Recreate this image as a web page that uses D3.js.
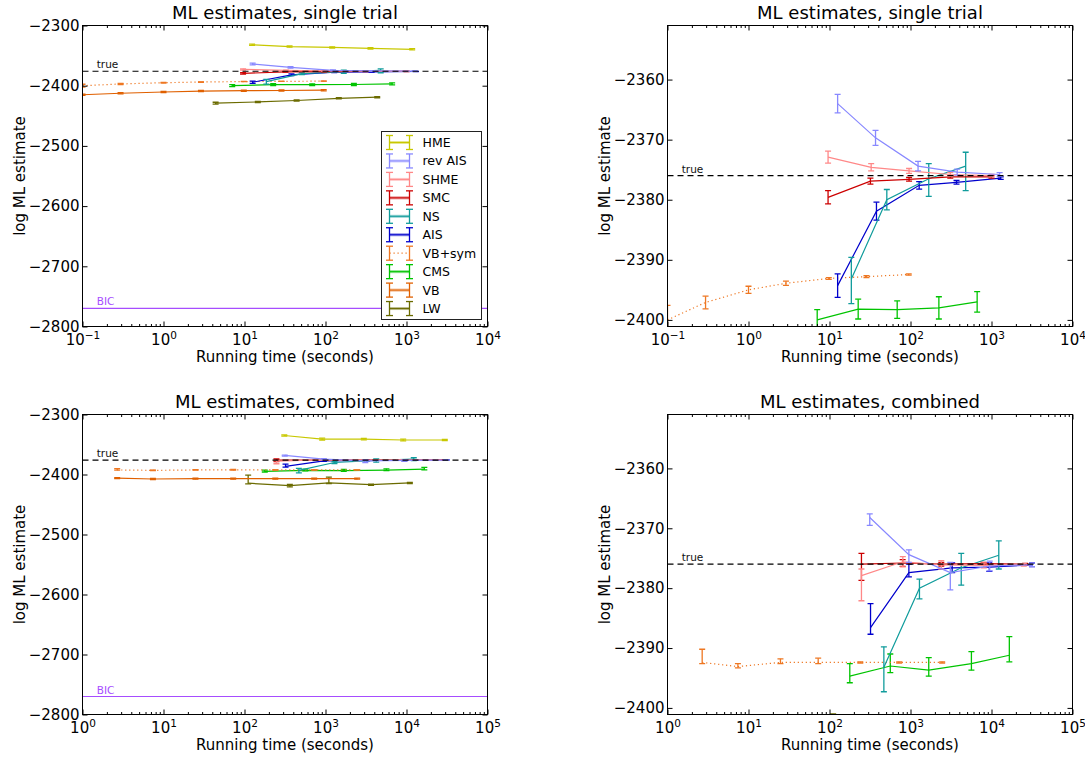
<!DOCTYPE html>
<html>
<head>
<meta charset="utf-8">
<script src="https://cdn.jsdelivr.net/npm/d3@7"></script>
<style>
    body { margin: 0; background: #fff; }
    svg { font-family: "DejaVu Sans", sans-serif; }
    .frame { fill: none; stroke: #000; stroke-width: 1; }
    .axis line { stroke: #000; stroke-width: 1; }
    .series path { fill: none; stroke-width: 1.2; }
    .series line { stroke-width: 1.3; }
</style>
</head>
<body>
<svg id="fig" width="1085" height="759"></svg>
<script>

var methods = ["HME", "rev AIS", "SHME", "SMC", "NS", "AIS", "VB+sym", "CMS", "VB", "LW"];
var method_colors = ["#c8c800", "#8888ff", "#ff8888", "#cc0000", "#109c9c", "#0000cc", "#ee7722", "#00c400", "#e06000", "#6b6b00"];
var dotted_methods = ["VB+sym"];

var true_value = -2376;
var bic_value = -2770;

// rows: [seconds, log ML estimate, error below, error above]
var single_HME = [[12.4, -2332, 1, 1], [36, -2335, 1, 1], [121, -2336.5, 1, 1], [359, -2338, 1, 1], [1175, -2339.5, 1, 1]];
var single_revAIS = [[12.6, -2364, 1.55, 1.55], [37, -2369.7, 1.25, 1.25], [124, -2374.4, 0.8, 0.8], [377, -2375.4, 0.5, 0.5], [1260, -2375.8, 0.3, 0.3]];
var single_SHME = [[9.6, -2372.9, 1, 1], [32.7, -2374.6, 0.6, 0.6], [96, -2375.2, 0.4, 0.4], [310, -2375.8, 0.3, 0.3], [1000, -2376, 0.2, 0.2]];
var single_SMC = [[9.6, -2379.6, 1.1, 1.1], [32, -2376.9, 0.5, 0.5], [96, -2376.6, 0.3, 0.3], [310, -2376.2, 0.2, 0.2], [1000, -2376.2, 0.2, 0.2]];
var single_NS = [[18.6, -2393.2, 4.1, 3.6], [51, -2380, 1.7, 1.7], [168, -2376.5, 2.95, 2.5], [480, -2374.4, 4.1, 2.3]];
var single_AIS = [[12.6, -2394.3, 1.95, 1.95], [38, -2381.9, 1.5, 1.5], [128, -2377.6, 0.63, 0.63], [370, -2377.1, 0.3, 0.3], [1300, -2376.4, 0.2, 0.2]];
var single_VBsym = [[0.1, -2400, 2.4, 2.4], [0.295, -2397.1, 1.05, 1.05], [1.0, -2395, 0.6, 0.6], [2.9, -2393.9, 0.35, 0.35], [9.8, -2393.1, 0.15, 0.15], [28.6, -2392.8, 0.15, 0.15], [95, -2392.45, 0.1, 0.1]];
var single_CMS = [[7.05, -2400, 1.7, 1.7], [22.6, -2398.2, 1.65, 1.65], [68.5, -2398.3, 1.45, 1.45], [224, -2398, 1.85, 1.85], [665, -2397, 1.7, 1.7]];
var single_VB = [[0.1, -2415, 1, 1], [0.295, -2412.5, 1, 1], [1.0, -2410.5, 1, 1], [2.9, -2409, 1, 1], [9.8, -2408.3, 1, 1], [28.6, -2408, 1, 1], [95, -2407.5, 1, 1]];
var single_LW = [[4.4, -2429, 1.5, 1.5], [14.6, -2427, 1, 1], [44, -2424.6, 1, 1], [146, -2421, 1, 1], [435, -2419, 1, 1]];

var combined_HME = [[310, -2335, 1, 1], [910, -2341, 1.5, 1.5], [2970, -2341, 1.2, 1.2], [9100, -2342.5, 1.5, 1.5], [29700, -2342.5, 1.2, 1.2]];
var combined_revAIS = [[314, -2368.2, 1.3, 0.6], [955, -2374.4, 1.3, 0.8], [3100, -2377.4, 2.9, 1.7], [9500, -2376.3, 0.8, 0.8], [31600, -2376.1, 0.3, 0.3]];
var combined_SHME = [[248, -2377.9, 4.2, 1.1], [804, -2375.6, 0.85, 0.85], [2400, -2376.1, 0.7, 0.7], [8030, -2376.2, 0.4, 0.4], [25000, -2376.1, 0.2, 0.2]];
var combined_SMC = [[248, -2376, 2.7, 1.8], [800, -2375.8, 0.55, 0.55], [2400, -2376, 0.3, 0.3], [8000, -2375.9, 0.2, 0.2], [26000, -2376, 0.15, 0.15]];
var combined_NS = [[469, -2393.2, 4.1, 3.4], [1290, -2380, 1.8, 1.5], [4230, -2376.6, 2.9, 2.4], [12300, -2374.5, 2.3, 2.4]];
var combined_AIS = [[321, -2386.6, 1.1, 4.0], [955, -2377.4, 0.7, 1.4], [3270, -2376.6, 0.8, 0.8], [9400, -2376.5, 0.7, 0.7], [31600, -2376.1, 0.3, 0.3]];
var combined_VBsym = [[2.68, -2392.4, 0.2, 2.2], [7.4, -2393.1, 0.2, 0.5], [24.8, -2392.4, 0.2, 0.6], [72.5, -2392.4, 0.2, 0.7], [240, -2392.4, 0.1, 0.1], [725, -2392.4, 0.1, 0.1], [2460, -2392.4, 0.1, 0.1]];
var combined_CMS = [[178, -2394.7, 1.1, 2.1], [563, -2393, 1.1, 2.0], [1680, -2393.7, 1.0, 2.1], [5650, -2392.6, 1.1, 2.0], [16600, -2391.2, 1.1, 3.1]];
var combined_VB = [[2.68, -2406, 0.8, 0.8], [7.4, -2407.5, 0.8, 0.8], [24.8, -2407, 0.8, 0.8], [72.5, -2407, 0.8, 0.8], [240, -2407, 0.8, 0.8], [725, -2407, 0.8, 0.8], [2460, -2407, 0.8, 0.8]];
var combined_LW = [[111, -2414.5, 1, 13.5], [363, -2418.5, 2, 2], [1100, -2414, 1, 9.5], [3650, -2417, 1, 1], [11000, -2414, 1, 1]];

// same order as methods
var single_trial = [single_HME, single_revAIS, single_SHME, single_SMC, single_NS, single_AIS, single_VBsym, single_CMS, single_VB, single_LW];
var combined = [combined_HME, combined_revAIS, combined_SHME, combined_SMC, combined_NS, combined_AIS, combined_VBsym, combined_CMS, combined_VB, combined_LW];

var wide_y_domain = [-2800, -2300];
var wide_y_ticks = [-2300, -2400, -2500, -2600, -2700, -2800];
var zoom_y_domain = [-2401.1, -2351];
var zoom_y_ticks = [-2360, -2370, -2380, -2390, -2400];
var single_x_domain = [0.1, 1e4];
var single_x_ticks = [0.1, 1, 10, 100, 1000, 10000];
var combined_x_domain = [1, 1e5];
var combined_x_ticks = [1, 10, 100, 1000, 10000, 100000];

var title_single = "ML estimates, single trial";
var title_combined = "ML estimates, combined";
var x_label = "Running time (seconds)";
var y_label = "log ML estimate";


var clip_count = 0;

function ml_panel() {

    var width = 405
        , height = 300
        , x_domain
        , y_domain
        , x_ticks
        , y_ticks
        , title = ""
        , rows = []
        , legend = false
        , bic = false
        , yFormat = d3.format("d")
        , expFormat = d3.format("d")
        ;

    function my(selection) {
        selection.each(function() {

            var g = d3.select(this);

            var x = d3.scaleLog().domain(x_domain).range([0, width]);
            var y = d3.scaleLinear().domain(y_domain).range([height, 0]);

            var clip_id = "clip-" + (++clip_count);
            g.append("clipPath").attr("id", clip_id)
                .append("rect").attr("width", width).attr("height", height);

            var plot = g.append("g").attr("clip-path", "url(#" + clip_id + ")");

            if (bic) {
                plot.append("line")
                    .attr("x1", 0).attr("x2", width)
                    .attr("y1", y(bic_value)).attr("y2", y(bic_value))
                    .attr("stroke", "#a64dff").attr("stroke-width", 1.2);
                g.append("text")
                    .attr("x", x(x_domain[0] * 1.5)).attr("y", y(bic_value) - 3)
                    .attr("font-size", 10.5).attr("fill", "#a64dff")
                    .text("BIC");
            }

            var line_gen = d3.line()
                .x(d => x(d[0]))
                .y(d => y(d[1]));

            // plot from the bottom of the legend upwards
            d3.range(rows.length - 1, -1, -1).forEach(function(i) {
                var data = rows[i]
                    , color = method_colors[i]
                    , s = plot.append("g").attr("class", "series");

                s.append("path")
                    .attr("d", line_gen(data))
                    .attr("stroke", color)
                    .attr("stroke-dasharray", dotted_methods.indexOf(methods[i]) >= 0 ? "1.2,2.8" : null);

                var bars = s.selectAll("g.bar")
                    .data(data)
                    .enter()
                    .append("g")
                    .attr("class", "bar")
                    .attr("stroke", color);

                bars.append("line")
                    .attr("x1", d => x(d[0])).attr("x2", d => x(d[0]))
                    .attr("y1", d => y(d[1] - d[2])).attr("y2", d => y(d[1] + d[3]));
                bars.append("line")
                    .attr("x1", d => x(d[0]) - 3).attr("x2", d => x(d[0]) + 3)
                    .attr("y1", d => y(d[1] - d[2])).attr("y2", d => y(d[1] - d[2]));
                bars.append("line")
                    .attr("x1", d => x(d[0]) - 3).attr("x2", d => x(d[0]) + 3)
                    .attr("y1", d => y(d[1] + d[3])).attr("y2", d => y(d[1] + d[3]));
            });

            plot.append("line")
                .attr("x1", 0).attr("x2", width)
                .attr("y1", y(true_value)).attr("y2", y(true_value))
                .attr("stroke", "#000").attr("stroke-width", 1.2)
                .attr("stroke-dasharray", "6,4");

            g.append("text")
                .attr("x", x(x_domain[0] * 1.5)).attr("y", y(true_value) - 3)
                .attr("font-size", 10.5).attr("fill", "#111")
                .text("true");

            // axes, ticks pointing inwards on all four sides
            var minor = [];
            x_ticks.slice(0, -1).forEach(function(t) {
                for (var k = 2; k < 10; k++) minor.push(t * k);
            });

            function tidy(sel) {
                sel.select(".domain").remove();
                sel.attr("font-family", null).attr("font-size", 15);
            }

            g.append("g").attr("class", "axis axis--y")
                .call(d3.axisLeft(y).tickValues(y_ticks).tickSizeInner(-5).tickSizeOuter(0)
                    .tickPadding(3).tickFormat(yFormat))
                .call(tidy);

            g.append("g").attr("class", "axis")
                .attr("transform", "translate(" + width + ",0)")
                .call(d3.axisRight(y).tickValues(y_ticks).tickSizeInner(-5).tickSizeOuter(0).tickFormat(""))
                .call(tidy);

            var gx = g.append("g").attr("class", "axis axis--x")
                .attr("transform", "translate(0," + height + ")")
                .call(d3.axisBottom(x).tickValues(x_ticks).tickSizeInner(-5).tickSizeOuter(0)
                    .tickPadding(8).tickFormat(() => ""))
                .call(tidy);

            gx.selectAll(".tick text").each(function(d) {
                var t = d3.select(this);
                t.append("tspan").text("10");
                t.append("tspan").attr("dy", -6).attr("font-size", 10.5)
                    .text(expFormat(Math.round(Math.log10(d))));
            });

            g.append("g").attr("class", "axis")
                .attr("transform", "translate(0," + height + ")")
                .call(d3.axisBottom(x).tickValues(minor).tickSizeInner(-2.5).tickSizeOuter(0).tickFormat(""))
                .call(tidy);

            g.append("g").attr("class", "axis")
                .call(d3.axisTop(x).tickValues(x_ticks).tickSizeInner(-5).tickSizeOuter(0).tickFormat(""))
                .call(tidy);

            g.append("g").attr("class", "axis")
                .call(d3.axisTop(x).tickValues(minor).tickSizeInner(-2.5).tickSizeOuter(0).tickFormat(""))
                .call(tidy);

            g.append("rect").attr("class", "frame")
                .attr("width", width).attr("height", height);

            g.append("text")
                .attr("x", width / 2).attr("y", -7)
                .attr("text-anchor", "middle").attr("font-size", 18)
                .text(title);

            g.append("text")
                .attr("x", width / 2).attr("y", height + 35)
                .attr("text-anchor", "middle").attr("font-size", 15)
                .text(x_label);

            g.append("text")
                .attr("transform", "translate(-57.5," + (height / 2) + ") rotate(-90)")
                .attr("text-anchor", "middle").attr("font-size", 15)
                .text(y_label);

            if (legend) drawLegend(g);
        });
    }

    function drawLegend(g) {
        var lw = 100, lh = 188, row = 18.45;
        var lg = g.append("g")
            .attr("transform", "translate(" + (width - 6 - lw) + "," + (height - 7 - lh) + ")");

        lg.append("rect")
            .attr("width", lw).attr("height", lh)
            .attr("fill", "#fff").attr("stroke", "#222").attr("stroke-width", 1);

        var items = lg.selectAll("g.item")
            .data(methods)
            .enter()
            .append("g")
            .attr("class", "item")
            .attr("transform", (d, i) => "translate(0," + (11 + i * row) + ")")
            .attr("stroke", (d, i) => method_colors[i]);

        items.each(function(d) {
            var it = d3.select(this);
            if (dotted_methods.indexOf(d) >= 0) {
                it.append("line").attr("x1", 8).attr("x2", 28)
                    .attr("stroke-width", 1.2).attr("stroke-dasharray", "1.2,2.8");
            } else {
                it.append("line").attr("x1", 8).attr("x2", 28)
                    .attr("stroke-width", 3).attr("stroke-opacity", 0.45);
                it.append("line").attr("x1", 8).attr("x2", 28)
                    .attr("stroke-width", 1);
            }
            [8, 28].forEach(function(bx) {
                it.append("line").attr("x1", bx).attr("x2", bx).attr("y1", -7).attr("y2", 7).attr("stroke-width", 1.3);
                it.append("line").attr("x1", bx - 3.5).attr("x2", bx + 3.5).attr("y1", -7).attr("y2", -7).attr("stroke-width", 1.3);
                it.append("line").attr("x1", bx - 3.5).attr("x2", bx + 3.5).attr("y1", 7).attr("y2", 7).attr("stroke-width", 1.3);
            });
        });

        items.append("text")
            .attr("x", 41).attr("y", 4.5)
            .attr("stroke", "none").attr("fill", "#000")
            .attr("font-size", 12.5)
            .text(d => d);
    }

    my.size = function(w, h) { width = w; height = h; return my; };
    my.x_domain = function(value) { x_domain = value; return my; };
    my.y_domain = function(value) { y_domain = value; return my; };
    my.x_ticks = function(value) { x_ticks = value; return my; };
    my.y_ticks = function(value) { y_ticks = value; return my; };
    my.title = function(value) { title = value; return my; };
    my.rows = function(value) { rows = value; return my; };
    my.legend = function(value) { legend = value; return my; };
    my.bic = function(value) { bic = value; return my; };

    return my;
}


var svg = d3.select("#fig");
var left = 82.5, right = 667.5, top_row = 25.5, bottom_row = 414.5;

svg.append("g").attr("transform", "translate(" + left + "," + top_row + ")")
    .call(ml_panel().size(405, 301).x_domain(single_x_domain).x_ticks(single_x_ticks)
        .y_domain(wide_y_domain).y_ticks(wide_y_ticks).title(title_single)
        .rows(single_trial).legend(true).bic(true));

svg.append("g").attr("transform", "translate(" + right + "," + top_row + ")")
    .call(ml_panel().size(405, 301).x_domain(single_x_domain).x_ticks(single_x_ticks)
        .y_domain(zoom_y_domain).y_ticks(zoom_y_ticks).title(title_single)
        .rows(single_trial));

svg.append("g").attr("transform", "translate(" + left + "," + bottom_row + ")")
    .call(ml_panel().size(405, 300).x_domain(combined_x_domain).x_ticks(combined_x_ticks)
        .y_domain(wide_y_domain).y_ticks(wide_y_ticks).title(title_combined)
        .rows(combined).bic(true));

svg.append("g").attr("transform", "translate(" + right + "," + bottom_row + ")")
    .call(ml_panel().size(405, 300).x_domain(combined_x_domain).x_ticks(combined_x_ticks)
        .y_domain(zoom_y_domain).y_ticks(zoom_y_ticks).title(title_combined)
        .rows(combined));

</script>
</body>
</html>
